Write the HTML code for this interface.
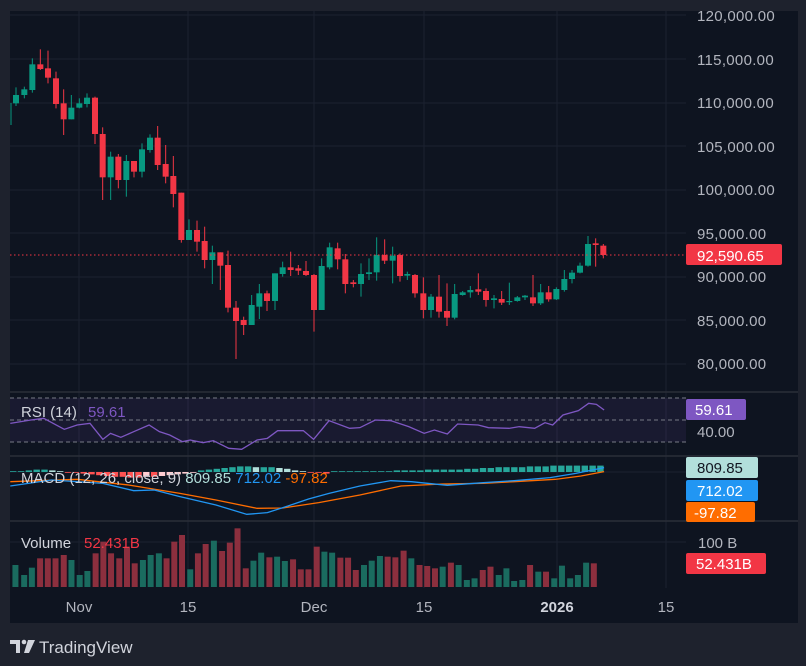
<!DOCTYPE html>
<html><head><meta charset="utf-8"><style>
html,body{margin:0;padding:0;background:#1e222d;width:806px;height:666px;overflow:hidden;font-family:"Liberation Sans",sans-serif}
</style></head><body>
<svg id="s" width="806" height="666" xmlns="http://www.w3.org/2000/svg" style="position:absolute;left:0;top:0">
<rect x="0" y="0" width="806" height="666" fill="#1e222d"/>
<rect x="10" y="11" width="788" height="612" fill="#0e1420"/>
<g id="grid" stroke="#1c2230" stroke-width="1"></g>
<g id="main"></g>
<g font-size="15" fill="#b2b5be" id="axis"></g>
</svg>
<script>
const NS="http://www.w3.org/2000/svg";
const svg=document.getElementById('s');
const SX=1.945;
function el(t,a,p){const e=document.createElementNS(NS,t);for(const k in a)e.setAttribute(k,a[k]);(p||svg).appendChild(e);return e;}
function txt(x,y,s,a){const e=el('text',Object.assign({x:x,y:y},a||{}));e.textContent=s;return e;}
const grid=document.getElementById('grid');
[15,59,103,146,190,233,277,320,364].forEach(y=>el('line',{x1:10,x2:686,y1:y,y2:y},grid));
[79,188,314,424,557,666].forEach(x=>el('line',{x1:x,x2:x,y1:11,y2:588},grid));
[392,456,521].forEach(y=>el('line',{x1:10,x2:798,y1:y,y2:y,stroke:'#2a2e39','stroke-width':1.5}));
el('line',{x1:10,x2:686,y1:472,y2:472,stroke:'#1c2230'});
el('line',{x1:10,x2:686,y1:542,y2:542,stroke:'#1c2230'});
const C=[[33,103*3,125*3,310,375,'g'],[48,285,310,262,318,'g'],[73,268,285,260,295,'g'],[97,193,270,175,278,'g'],[121,193,207,148,210,'r'],[144,205,233,152,250,'r'],[168,235,312,215,325,'r'],[191,310,358,268,405,'r'],[214,323,358,285,358,'g'],[238,310,323,295,325,'g'],[261,293,312,280,322,'g'],[285,293,402,290,432,'r'],[308,402,532,382,600,'r'],[332,470,532,455,600,'g'],[355,470,540,462,565,'r'],[379,483,540,465,590,'g'],[402,483,515,483,532,'r'],[426,448,515,430,532,'g'],[450,413,450,403,458,'g'],[473,413,495,378,510,'r'],[497,492,530,435,550,'r'],[520,528,582,468,622,'r'],[544,578,720,578,728,'r'],[567,690,720,658,720,'g'],[591,690,725,662,755,'r'],[614,723,780,680,805,'r'],[637,757,780,737,852,'g'],[661,757,797,757,870,'r'],[684,795,923,752,937,'r'],[708,923,963,903,1077,'r'],[731,960,975,950,1005,'r'],[755,915,975,885,975,'g'],[778,880,920,852,957,'g'],[801,880,903,872,933,'r'],[825,820,903,820,930,'g'],[848,802,822,785,830,'g'],[872,802,810,755,828,'r'],[895,805,812,795,825,'r'],[918,813,825,783,828,'r'],[942,825,930,822,995,'r'],[965,798,930,775,930,'g'],[989,742,802,728,808,'g'],[1013,745,778,728,808,'r'],[1036,778,852,762,880,'r'],[1060,847,852,840,862,'r'],[1083,822,852,790,890,'g'],[1107,817,822,775,840,'g'],[1130,765,817,712,842,'g'],[1154,765,782,718,792,'r'],[1178,767,782,740,850,'g'],[1200,765,828,760,845,'r']];
const C2=[[22,822,827,815,840,'g'],[45,825,880,822,893,'r'],[70,880,930,832,955,'r'],[93,890,930,882,953,'g'],[117,890,935,825,953,'r'],[141,933,953,850,978,'r'],[164,882,953,852,958,'g'],[188,877,885,873,887,'g'],[211,870,877,858,893,'g'],[235,868,875,820,885,'r'],[258,873,900,865,920,'r'],[282,895,900,885,925,'g'],[305,897,908,873,915,'r'],[328,903,906,848,915,'g'],[352,892,903,888,905,'g'],[375,887,892,885,900,'g'],[399,892,910,825,918,'r'],[422,877,910,852,915,'g'],[446,877,898,858,905,'r'],[469,867,898,862,900,'g'],[493,837,870,810,875,'g'],[516,818,837,810,850,'g'],[540,797,818,788,820,'g'],[564,732,797,708,800,'g'],[587,730,735,715,800,'r'],[610,737,765,732,775,'r']];
C2.forEach(c=>{c[0]+=1200;C.push(c)});
const main=document.getElementById('main');
C.forEach((c,i)=>{const x=c[0]/3,col=c[5]=='g'?'#089981':'#f23645';
 el('line',{x1:x,x2:x,y1:c[3]/3,y2:c[4]/3,stroke:col,'stroke-width':1},main);
 const w=i==0?1:6;
 el('rect',{x:x-w/2,y:c[1]/3,width:w,height:Math.max(1.2,(c[2]-c[1])/3),fill:col},main);});
el('line',{x1:10,x2:686,y1:255,y2:255,stroke:'#f23645','stroke-width':1,'stroke-dasharray':'1.5 2.5'});
[['120,000.00',21],['115,000.00',65],['110,000.00',108],['105,000.00',152],['100,000.00',195],['95,000.00',239],['90,000.00',282],['85,000.00',326],['80,000.00',369]].forEach(a=>txt(697,a[1],a[0],{fill:'#b2b5be','font-size':15,'letter-spacing':'0.3'}));
el('rect',{x:686,y:244,width:96,height:21,rx:2,fill:'#f23645'});
txt(697,261,'92,590.65',{fill:'#fff','font-size':15});
// RSI
el('rect',{x:10,y:398,width:676,height:44,fill:'rgba(126,87,194,0.10)'});
[398,420,442].forEach(y=>el('line',{x1:10,x2:686,y1:y,y2:y,stroke:'#787b86','stroke-dasharray':'4 3','stroke-width':1}));
const R=[[20,130],[60,120],[85,115],[125,148],[150,135],[175,130],[200,178],[215,160],[235,172],[260,155],[290,135],[310,155],[330,165],[355,185],[370,180],[395,188],[415,182],[445,205],[470,208],[500,180],[520,175],[540,152],[590,152],[610,178],[640,122],[680,145],[700,143],[730,120],[760,122],[795,140],[825,160],[845,150],[870,162],[890,132],[930,135],[950,143],[990,145],[1010,140],[1040,145],[1060,128],[1075,135],[1095,105],[1125,92],[1145,70],[1160,73],[1175,90]];
el('polyline',{points:R.map(p=>(p[0]/SX)+','+(380+p[1]/3)).join(' '),fill:'none',stroke:'#7e57c2','stroke-width':1.3});
txt(21,417,'RSI (14)',{fill:'#d1d4dc','font-size':15});
txt(88,417,'59.61',{fill:'#7e57c2','font-size':15});
el('rect',{x:686,y:399,width:60,height:21,rx:2,fill:'#7e57c2'});
txt(695,415,'59.61',{fill:'#fff','font-size':15});
txt(697,437,'40.00',{fill:'#b2b5be','font-size':15});
// MACD hist
const H=[1,1,2,3,3,2,1,-1,-1,-2,-3,-4,-5,-6,-6,-7,-7,-6,-6,-5,-4,-3,-2,-1,2,3,4,5,6,7,7,6,6,6,5,4,2,1,-1,-1,-2,1,1,1,1,1,1,1,1,2,2,2,2,3,3,3,3,3,4,4,5,5,6,6,6,6,7,7,7,8,8,8,8,8,8,8];
H.forEach((h,i)=>{const x=10+i*7.83;const prev=i?H[i-1]:0;
 let col=h>=0?(h>=prev?'#26a69a':'#b2dfdb'):(h<=prev?'#ff5252':'#ffcdd2');
 el('rect',{x:x,y:h>=0?472-h*0.8:472,width:6.4,height:Math.abs(h)*0.8,fill:col});});
const B=[[20,318],[100,300],[200,310],[260,332],[300,330],[350,350],[420,375],[480,403],[520,398],[560,378],[600,357],[640,340],[700,318],[760,302],[800,305],[870,316],[940,308],[1000,302],[1070,293],[1120,280],[1175,263]];
const O=[[20,305],[150,298],[250,315],[350,340],[420,360],[500,385],[550,384],[620,368],[700,345],[780,318],[860,312],[940,310],[1000,305],[1080,298],[1130,288],[1175,275]];
el('polyline',{points:O.map(p=>(p[0]/SX)+','+(380+p[1]/3)).join(' '),fill:'none',stroke:'#ff6d00','stroke-width':1.3});
el('polyline',{points:B.map(p=>(p[0]/SX)+','+(380+p[1]/3)).join(' '),fill:'none',stroke:'#2196f3','stroke-width':1.3});
const mt=txt(21,483,'',{'font-size':15});
mt.setAttribute('xml:space','preserve');
[['MACD (12, 26, close, 9)  ','#d1d4dc'],['809.85  ','#b2dfdb'],['712.02  ','#2196f3'],['-97.82','#ff6d00']].forEach(a=>{const t=el('tspan',{fill:a[1]},mt);t.textContent=a[0];});
el('rect',{x:686,y:457,width:72,height:21,rx:2,fill:'#b2dfdb'});
txt(697,473,'809.85',{fill:'#131722','font-size':15});
el('rect',{x:686,y:480,width:72,height:21,rx:2,fill:'#2196f3'});
txt(697,496,'712.02',{fill:'#fff','font-size':15});
el('rect',{x:686,y:502,width:69,height:20,rx:2,fill:'#ff6d00'});
txt(694,518,'-97.82',{fill:'#fff','font-size':15});
// Volume
const V=[[30,555,'g'],[47,585,'g'],[62,563,'g'],[78,535,'r'],[93,535,'r'],[108,535,'r'],[124,525,'r'],[139,540,'g'],[155,585,'g'],[170,573,'g'],[186,520,'r'],[201,485,'r'],[216,520,'r'],[232,535,'r'],[247,500,'r'],[262,550,'r'],[278,540,'g'],[293,525,'g'],[309,520,'g'],[324,535,'r'],[339,485,'r'],[354,465,'r'],[370,568,'g'],[385,520,'r'],[400,492,'r'],[416,482,'g'],[432,513,'r'],[447,488,'r'],[462,445,'r'],[478,565,'r'],[493,542,'g'],[508,518,'g'],[524,532,'r'],[539,530,'g'],[554,543,'g'],[570,538,'r'],[585,568,'r'],[600,568,'r'],[616,500,'r'],[631,515,'g'],[646,518,'g'],[662,533,'r'],[677,533,'r'],[692,570,'r'],[708,555,'g'],[723,542,'g'],[739,528,'g'],[754,530,'r'],[769,532,'r'],[785,512,'r'],[800,535,'g'],[816,555,'r'],[831,558,'r'],[846,565,'r'],[861,560,'g'],[877,548,'r'],[892,555,'g'],[908,600,'g'],[923,595,'g'],[939,570,'r'],[954,560,'r'],[970,585,'g'],[985,565,'g'],[1000,603,'g'],[1016,600,'g'],[1031,555,'r'],[1047,575,'g'],[1062,575,'r'],[1078,595,'g'],[1093,557,'g'],[1109,595,'g'],[1124,585,'g'],[1140,548,'g'],[1155,550,'r']];
V.forEach(v=>{const t=380+v[1]/3;el('rect',{x:v[0]/SX-3,y:t,width:6,height:587-t,fill:v[2]=='g'?'#1a6b5f':'#8c2f3e'});});
txt(21,548,'Volume',{fill:'#d1d4dc','font-size':15});
txt(84,548,'52.431B',{fill:'#f23645','font-size':15});
txt(698,548,'100 B',{fill:'#b2b5be','font-size':15});
el('rect',{x:686,y:553,width:80,height:21,rx:2,fill:'#f23645'});
txt(696,569,'52.431B',{fill:'#fff','font-size':15});
[['Nov',79],['15',188],['Dec',314],['15',424],['15',666]].forEach(a=>txt(a[1],612,a[0],{fill:'#b2b5be','font-size':15,'text-anchor':'middle'}));
txt(557,612,'2026',{fill:'#d1d4dc','font-size':15,'font-weight':'bold','text-anchor':'middle'});
el('path',{d:'M10 640h10v13h-4v-9h-6z',fill:'#d1d4dc'});
el('circle',{cx:24,cy:642,r:2.3,fill:'#d1d4dc'});
el('path',{d:'M28 640h7l-6 13h-5z',fill:'#d1d4dc'});
txt(39,653,'TradingView',{fill:'#d1d4dc','font-size':17});
</script>
</body></html>
